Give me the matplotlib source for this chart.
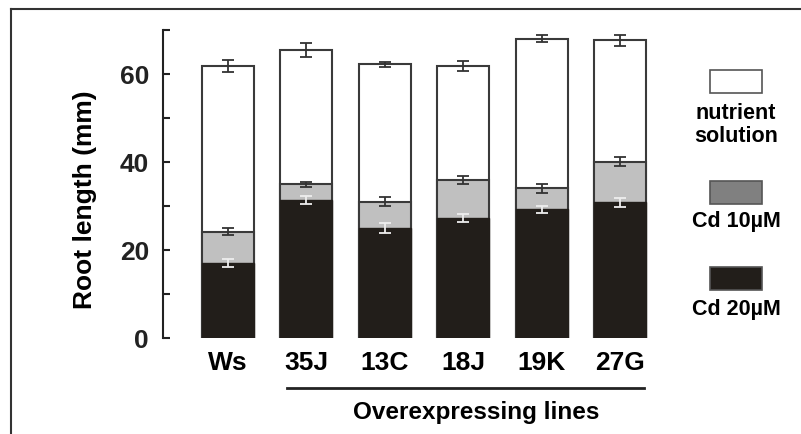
import matplotlib
matplotlib.use("Agg")
import matplotlib.pyplot as plt
from matplotlib.patches import Rectangle
from matplotlib.lines import Line2D

plt.rcParams['font.family'] = ['Liberation Sans', 'DejaVu Sans']
plt.rcParams['font.weight'] = 'bold'

categories = ["Ws", "35J", "13C", "18J", "19K", "27G"]
nutrient = [61.8, 65.4, 62.2, 61.8, 68.0, 67.7]
nutrient_err = [1.4, 1.6, 0.6, 1.1, 0.8, 1.25]
cd10 = [24.2, 34.9, 31.0, 35.9, 34.0, 40.1]
cd10_err = [0.75, 0.5, 1.1, 0.9, 1.0, 0.95]
cd20 = [17.0, 31.3, 25.0, 27.3, 29.3, 30.8]
cd20_err = [0.9, 0.9, 1.1, 0.9, 0.8, 1.05]
legend_labels = ["nutrient\nsolution", "Cd 10\u00b5M", "Cd 20\u00b5M"]
ylabel = "Root length (mm)"
group_label = "Overexpressing lines"

W, H = 801, 434
fig = plt.figure(figsize=(W / 100, H / 100), dpi=100)

def fx(px):
    return px / W

def fy(py):
    return 1 - py / H

ax_left, ax_right, ax_top, ax_bot = 163, 660, 30, 338
ax = fig.add_axes([fx(ax_left), fy(ax_bot), fx(ax_right - ax_left), (ax_bot - ax_top) / H])

x = list(range(len(categories)))
width = 0.663
edge = '#3a3a3a'
ax.bar(x, nutrient, width, color='white', edgecolor=edge, linewidth=1.5, zorder=2)
ax.bar(x, cd10, width, color='#c0c0c0', edgecolor=edge, linewidth=1.5, zorder=3)
ax.bar(x, cd20, width, color='#221e1a', edgecolor='#221e1a', linewidth=1.0, zorder=4)

ekw = dict(fmt='none', capsize=4, elinewidth=1.3, capthick=1.3)
ax.errorbar(x, nutrient, yerr=nutrient_err, ecolor='#333333', zorder=5, **ekw)
ax.errorbar(x, cd10, yerr=cd10_err, ecolor='#333333', zorder=5, **ekw)
ax.errorbar(x, cd20, yerr=cd20_err, ecolor='#eeeeee', zorder=5, **ekw)

ax.set_ylim(0, 70)
ax.set_xlim(-0.829, 5.51)
ax.set_yticks([0, 20, 40, 60])
ax.set_yticks([10, 30, 50, 70], minor=True)
ax.tick_params(axis='y', which='both', direction='in', length=5, width=1.5,
               colors='#222222', labelsize=19, pad=10)
ax.set_xticks(x)
ax.set_xticklabels(categories, fontsize=19, fontweight='bold')
ax.tick_params(axis='x', length=0, pad=9)
for s in ['top', 'right', 'bottom']:
    ax.spines[s].set_visible(False)
ax.spines['left'].set_linewidth(1.5)
ax.spines['left'].set_color('#222222')
ax.set_ylabel(ylabel, fontsize=19, fontweight='bold')
ax.yaxis.set_label_coords((85 - ax_left) / (ax_right - ax_left), (ax_bot - 200) / (ax_bot - ax_top))
ax.yaxis.label.set_va('center')

# group underline and label
fig.add_artist(Line2D([fx(287), fx(644)], [fy(388), fy(388)], color='#222222', linewidth=2))
fig.text(fx(476), fy(413), group_label, ha='center', va='center', fontsize=17.5, fontweight='bold')

# legend
leg_colors = ['white', '#808080', '#221e1a']
box_tops = [70, 181, 267]
text_ys = [125, 222, 310]
for c, bt, ty, lab in zip(leg_colors, box_tops, text_ys, legend_labels):
    fig.add_artist(Rectangle((fx(710), fy(bt + 23)), fx(52), 23 / H, facecolor=c,
                             edgecolor='#555555', linewidth=1.2, transform=fig.transFigure))
    fig.text(fx(736), fy(ty), lab, ha='center', va='center', fontsize=15.5,
             fontweight='bold', linespacing=1.15)

# frame
fig.add_artist(Line2D([fx(11), fx(11)], [fy(9), 0], color='#333333', linewidth=1.5))
fig.add_artist(Line2D([fx(11), 1], [fy(9), fy(9)], color='#333333', linewidth=1.5))

fig.savefig("out.png", dpi=100)
